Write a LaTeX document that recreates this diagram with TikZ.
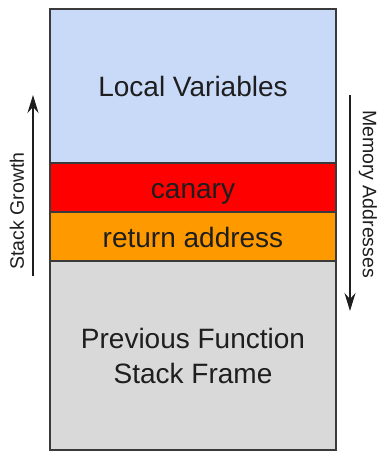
\documentclass[tikz,border=0pt]{standalone}
\usepackage{fontspec}
\setmainfont{Liberation Sans}
\usetikzlibrary{arrows.meta,positioning}
\definecolor{localblue}{HTML}{C9DAF8}
\definecolor{canaryred}{HTML}{FF0000}
\definecolor{retorange}{HTML}{FF9900}
\definecolor{framegray}{HTML}{D9D9D9}
\definecolor{edgegray}{HTML}{3A3A3A}
\definecolor{inkgray}{HTML}{1E1E1E}
\tikzset{
  block/.style={draw=edgegray,line width=1.6pt,rectangle,minimum width=286pt,
    inner sep=0pt,outer sep=0pt,align=center,text=inkgray,
    font=\fontsize{28}{35}\selectfont},
  oneline/.style={text height=23pt,text depth=2pt},
  sidelabel/.style={text=inkgray,font=\fontsize{19.5}{22}\selectfont},
  flow/.style={draw=inkgray,line width=1.8pt,-{Stealth[length=18pt,width=11pt,inset=6pt]}},
}
\begin{document}
\begin{tikzpicture}[x=1pt,y=-1pt]
      \useasboundingbox (0,0) rectangle (382,451);

      \node[block,oneline,fill=localblue,minimum height=154pt,anchor=north] (locals) at (193,9) {Local Variables};
      \node[block,oneline,fill=canaryred,minimum height=49pt,below=0pt of locals] (canary) {canary};
      \node[block,oneline,fill=retorange,minimum height=49pt,below=0pt of canary] (retaddr) {return address};
      \node[block,fill=framegray,minimum height=189pt,below=0pt of retaddr] (prevframe) {Previous Function\\ Stack Frame};

      \coordinate (growlow) at (33,276);
      \coordinate (growhigh) at (33,95);
      \draw[flow] (growlow) -- (growhigh);
      \node[sidelabel,rotate=90] (growth) at (17,211) {Stack Growth};

      \coordinate (memhigh) at (350,95);
      \coordinate (memlow) at (350,311);
      \draw[flow] (memhigh) -- (memlow);
      \node[sidelabel,rotate=-90] (memaddr) at (368,194) {Memory Addresses};
    \end{tikzpicture}
\end{document}
